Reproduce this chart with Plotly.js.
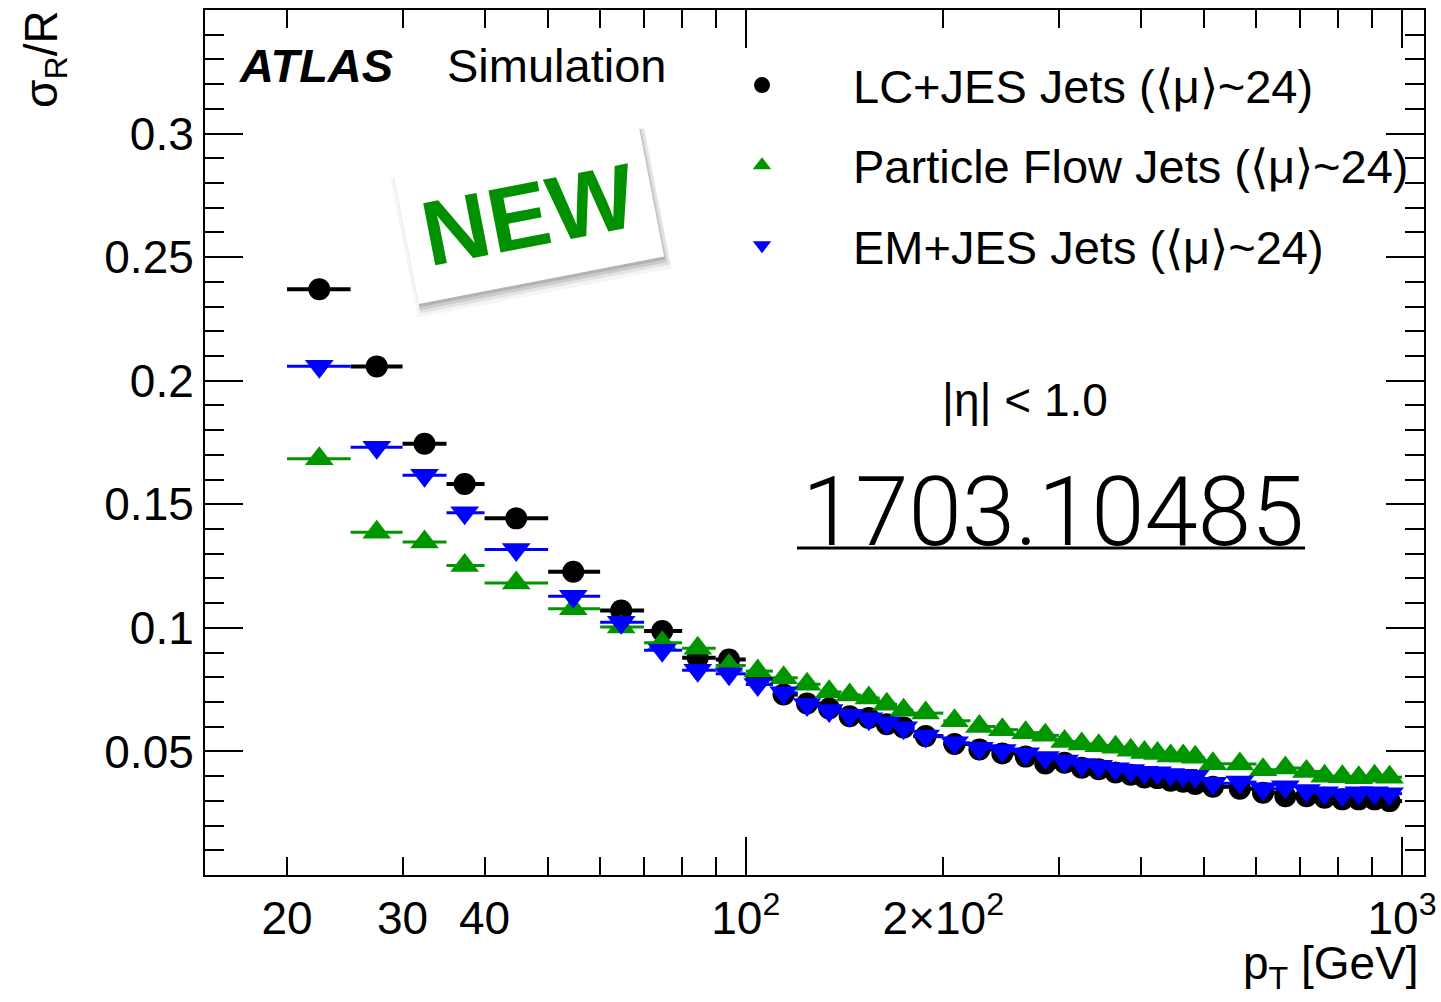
<!DOCTYPE html>
<html>
<head>
<meta charset="utf-8">
<script src="https://cdn.plot.ly/plotly-3.0.1.min.js"></script>
<style>
html,body{margin:0;padding:0;background:#fff;}
#chart{width:1441px;height:1002px;}
</style>
</head>
<body>
<div id="chart"></div>
<script>
// ---- data ----
const binLow  = [20,25,30,35,40,50,60,70,80,90,100,110,120,130,140,150,160,170,180,200,220,240,260,280,300,320,340,360,380,400,420,440,460,480,500,550,600,650,700,750,800,850,900,950];
const binHigh = [25,30,35,40,50,60,70,80,90,100,110,120,130,140,150,160,170,180,200,220,240,260,280,300,320,340,360,380,400,420,440,460,480,500,550,600,650,700,750,800,850,900,950,1000];
const ptMean  = [22.4,27.4,32.4,37.3,44.7,54.6,64.6,74.6,84.5,94.3,104.3,114.2,124,134,144,154,164,174,188,208,227,246,267,286,306,325,345,366,386,405,424,444,464,484,515,566,614,664,715,762,811,859,908,957];

const resLC = [0.2370,0.2058,0.1745,0.1582,0.1443,0.1227,0.1070,0.0987,0.0879,0.0872,0.0794,0.0730,0.0694,0.0674,0.0642,0.0635,0.0610,0.0597,0.0562,0.0530,0.0508,0.0492,0.0479,0.0451,0.0454,0.0434,0.0428,0.0415,0.0406,0.0395,0.0392,0.0381,0.0377,0.0368,0.0357,0.0349,0.0333,0.0319,0.0319,0.0313,0.0306,0.0306,0.0306,0.0299];
const resPF = [0.1684,0.1387,0.1347,0.1252,0.1182,0.1077,0.1003,0.0940,0.0917,0.0848,0.0825,0.0798,0.0772,0.0741,0.0728,0.0716,0.0691,0.0667,0.0655,0.0624,0.0601,0.0588,0.0576,0.0565,0.0540,0.0530,0.0523,0.0517,0.0505,0.0496,0.0492,0.0481,0.0481,0.0476,0.0450,0.0449,0.0426,0.0433,0.0419,0.0400,0.0398,0.0394,0.0400,0.0396];
const resEM = [0.2059,0.1731,0.1617,0.1466,0.1317,0.1128,0.1023,0.0909,0.0828,0.0814,0.0771,0.0737,0.0690,0.0666,0.0646,0.0632,0.0616,0.0596,0.0562,0.0535,0.0513,0.0504,0.0491,0.0475,0.0461,0.0447,0.0440,0.0430,0.0423,0.0416,0.0414,0.0407,0.0404,0.0400,0.0371,0.0376,0.0349,0.0357,0.0342,0.0333,0.0325,0.0333,0.0333,0.0329];

const seriesNames = ['LC+JES Jets (⟨μ⟩~24)','Particle Flow Jets (⟨μ⟩~24)','EM+JES Jets (⟨μ⟩~24)'];

const xTickVals = [20,30,40,100,200,1000];
const xTickText = ['20','30','40','10<sup>2</sup>','2×10<sup>2</sup>','10<sup>3</sup>'];
const xMajorTicks = [100,1000];
const xMinorTicks = [20,30,40,50,60,70,80,90,200,300,400,500,600,700,800,900];
const yTickVals = [0.05,0.1,0.15,0.2,0.25,0.3];
const yTickText = ['0.05','0.1','0.15','0.2','0.25','0.3'];

// ---- build ----
const FONT = 'Liberation Sans, Arial, Helvetica, sans-serif';
const errPlus  = ptMean.map((v,i)=>binHigh[i]-v);
const errMinus = ptMean.map((v,i)=>v-binLow[i]);

function series(name, y, symbol, color, size, thick, xax){
  return {
    type:'scatter', mode:'markers', name:name, x:ptMean, y:y,
    xaxis:xax, yaxis:'y',
    legendgroup:name,
    marker:{symbol:symbol, color:color, size:size, line:{width:0}},
    error_x:{type:'data', symmetric:false, array:errPlus, arrayminus:errMinus,
             width:0, thickness:thick, color:color},
    hoverinfo:'x+y'
  };
}

const data = [
  series(seriesNames[0], resLC, 'circle', '#000000', 22, 4, 'x'),
  series(seriesNames[1], resPF, 'triangle-up', '#009600', 25, 3, 'x'),
  series(seriesNames[2], resEM, 'triangle-down', '#0000ff', 25, 3, 'x2')
];

const xRange = [Math.log10(15), Math.log10(1080)];

function px2x(px){ return (px-205)/1219; }
function px2y(py){ return (875-py)/865; }

const stickerX = px2x(528.5), stickerY = px2y(214);
function shadow(dx, dy, w, h, a){
  return {xref:'paper', yref:'paper', x:stickerX, y:stickerY, xanchor:'center', yanchor:'middle',
    xshift:dx, yshift:dy, text:'<b>NEW</b>', showarrow:false, textangle:-11, width:w, height:h,
    bgcolor:'rgba(0,0,0,'+a+')', borderpad:0,
    font:{family:FONT, size:92, color:'rgba(0,0,0,0)'}};
}

const layout = {
  width:1441, height:1002,
  margin:{l:205, r:17, t:10, b:127},
  paper_bgcolor:'#ffffff', plot_bgcolor:'#ffffff',
  font:{family:FONT, size:46, color:'#000'},
  showlegend:true,
  legend:{
    x:px2x(671), y:px2y(48), xanchor:'left', yanchor:'top',
    bgcolor:'rgba(0,0,0,0)', borderwidth:0,
    font:{family:FONT, size:47, color:'#000'},
    itemwidth:172, tracegroupgap:16, itemclick:false, itemdoubleclick:false
  },
  xaxis:{
    type:'log', range:xRange, showline:true, linecolor:'#000', linewidth:2,
    mirror:'ticks', ticks:'inside', ticklen:38, tickwidth:2, tickcolor:'#000',
    tickmode:'array', tickvals:xMajorTicks, showticklabels:false,
    showgrid:false, zeroline:false,
    minor:{tickmode:'array', tickvals:xMinorTicks, ticks:'inside', ticklen:18,
           tickwidth:2, tickcolor:'#000', showgrid:false}
  },
  xaxis2:{
    type:'log', range:xRange, overlaying:'x', anchor:'y', side:'bottom',
    tickmode:'array', tickvals:xTickVals, ticktext:xTickText,
    ticks:'', showline:false, showgrid:false, zeroline:false,
    ticklabelstandoff:12,
    tickfont:{family:FONT, size:46, color:'#000'}
  },
  yaxis:{
    range:[0,0.35], showline:true, linecolor:'#000', linewidth:2,
    mirror:'ticks', ticks:'inside', ticklen:38, tickwidth:2, tickcolor:'#000',
    tickmode:'array', tickvals:yTickVals, ticktext:yTickText,
    tickfont:{family:FONT, size:46, color:'#000'},
    showgrid:false, zeroline:false,
    minor:{tick0:0, dtick:0.01, ticks:'inside', ticklen:19, tickwidth:2,
           tickcolor:'#000', showgrid:false}
  },
  shapes:[
    {type:'line', xref:'paper', yref:'paper', x0:px2x(797), x1:px2x(1305), y0:px2y(548), y1:px2y(548),
     line:{color:'#000', width:3}}
  ],
  annotations:[
    {xref:'paper', yref:'paper', x:px2x(237), y:px2y(65), xanchor:'left', yanchor:'middle',
     text:'<b><i>ATLAS</i></b>', showarrow:false, font:{family:FONT, size:47, color:'#000'}},
    {xref:'paper', yref:'paper', x:px2x(445), y:px2y(65), xanchor:'left', yanchor:'middle',
     text:'Simulation', showarrow:false, font:{family:FONT, size:47, color:'#000'}},
    shadow(2, -9, 258, 142, 0.04),
    shadow(3, -7, 254, 138, 0.07),
    shadow(2, -5, 251, 135, 0.10),
    shadow(1, -3, 249, 133, 0.12),
    {xref:'paper', yref:'paper', x:stickerX, y:stickerY, xanchor:'center', yanchor:'middle',
     text:'<b>NEW</b>', showarrow:false, textangle:-11, width:249, height:133,
     bgcolor:'#ffffff', borderpad:0,
     font:{family:FONT, size:92, color:'#009000'}},
    {xref:'paper', yref:'paper', x:px2x(1025), y:px2y(400), xanchor:'center', yanchor:'middle',
     text:'|η| < 1.0', showarrow:false, font:{family:FONT, size:46, color:'#000'}},
    {xref:'paper', yref:'paper', x:px2x(1053), y:px2y(512), xanchor:'center', yanchor:'middle',
     text:'1703.10485', showarrow:false,
     font:{family:'Roboto, Liberation Sans, sans-serif', size:96, weight:300, color:'#000'}},
    {xref:'paper', yref:'paper', x:px2x(45), y:px2y(8), xanchor:'center', yanchor:'top',
     text:'σ<sub>R</sub>/R', showarrow:false, textangle:-90,
     font:{family:FONT, size:46, color:'#000'}},
    {xref:'paper', yref:'paper', x:px2x(1421), y:px2y(966), xanchor:'right', yanchor:'middle',
     text:'p<sub>T</sub> [GeV]', showarrow:false,
     font:{family:FONT, size:46, color:'#000'}}
  ]
};

Plotly.newPlot('chart', data, layout, {displayModeBar:false, staticPlot:true});
</script>
</body>
</html>
